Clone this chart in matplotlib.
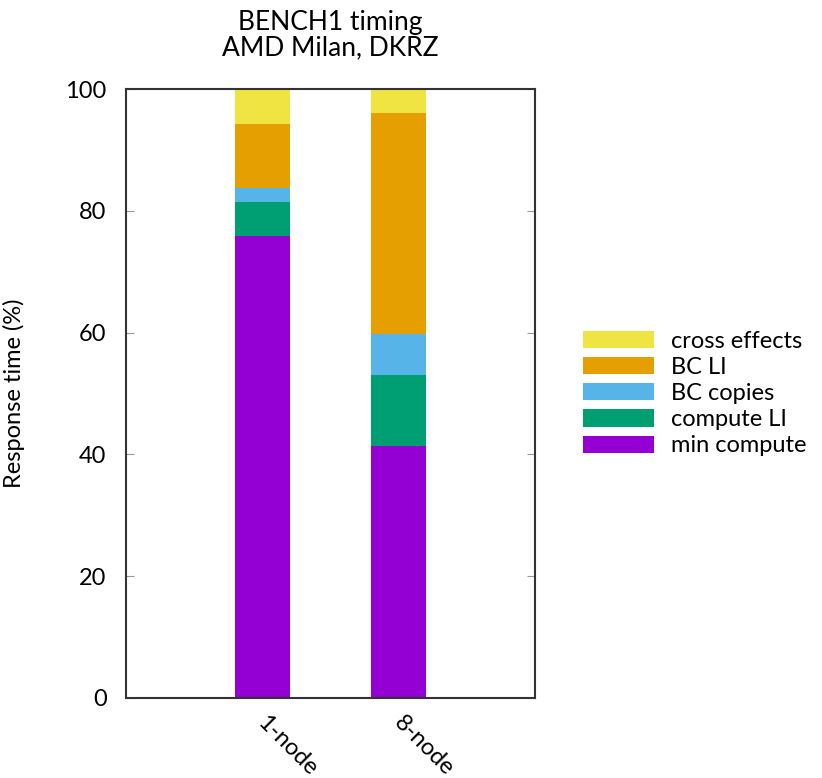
import matplotlib
matplotlib.use("Agg")
import matplotlib.pyplot as plt
import matplotlib.transforms as mtransforms
import numpy as np

categories = ["1-node", "8-node"]
series_names = ["min compute", "compute LI", "BC copies", "BC LI", "cross effects"]
min_compute = [75.8, 41.3]
compute_li = [5.7, 11.7]
bc_copies = [2.3, 6.7]
bc_li = [10.4, 36.4]
cross_effects = [5.8, 3.9]
colors = ["#9400d3", "#009e73", "#56b4e9", "#e69f00", "#f0e442"]
yticks = [0, 20, 40, 60, 80, 100]

plt.rcParams['font.family'] = ['Lato', 'DejaVu Sans']

fig = plt.figure(figsize=(8.22, 7.78), dpi=100)
ax = fig.add_axes([126/822, 1-698/778, 409/822, 609/778])

x = np.arange(len(categories))
bottom = np.zeros(len(categories))
handles = []
for name, vals, c in zip(series_names, [min_compute, compute_li, bc_copies, bc_li, cross_effects], colors):
    b = ax.bar(x, vals, width=0.4, bottom=bottom, color=c, label=name, linewidth=0)
    handles.append(b)
    bottom += np.array(vals)

ax.set_xlim(-1, 2)
ax.set_ylim(0, 100)
ax.set_yticks(yticks)
ax.set_yticklabels([str(t) for t in yticks], fontsize=17)
ax.tick_params(axis='y', direction='in', length=6, color='#999999', right=True, pad=14)
ax.set_xticks(x)
ax.set_xticklabels(categories, rotation=-45, ha='left', va='top', fontsize=17)
ax.tick_params(axis='x', length=0, pad=10)
offset = mtransforms.ScaledTranslation(-9/100, 0, fig.dpi_scale_trans)
for lbl in ax.get_xticklabels():
    lbl.set_transform(lbl.get_transform() + offset)
for s in ax.spines.values():
    s.set_color('#333333')
    s.set_linewidth(1.5)

ax.set_ylabel("Response time (%)", fontsize=17)
ax.yaxis.set_label_coords(-0.247, 0.5)
ax.set_title("BENCH1 timing\nAMD Milan, DKRZ", fontsize=19, pad=24, linespacing=1.05)

leg = ax.legend(handles[::-1], series_names[::-1], loc='center left',
                bbox_to_anchor=(1.118, 0.5), frameon=False, fontsize=17,
                handlelength=3.0, handleheight=0.75, labelspacing=0.22,
                handletextpad=0.7, borderaxespad=0, borderpad=0)

fig.savefig("out.png", dpi=100)
